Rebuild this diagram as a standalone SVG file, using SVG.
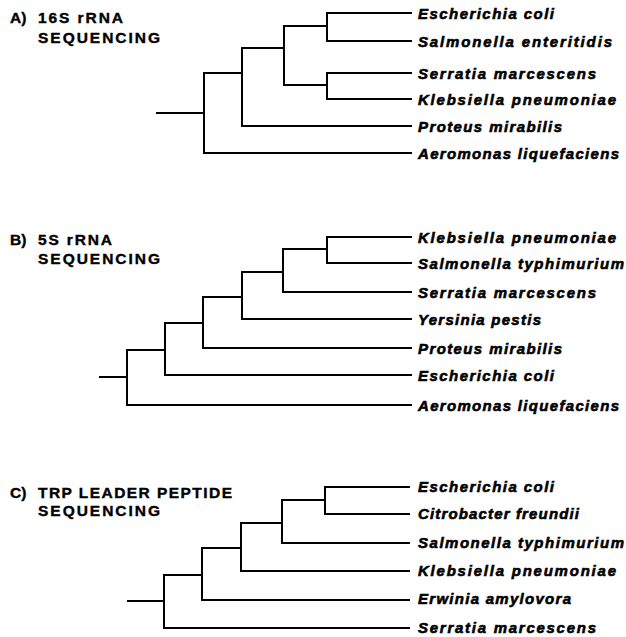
<svg xmlns="http://www.w3.org/2000/svg" width="626" height="637" viewBox="0 0 626 637">
<style>
.bg{fill:#fff}
.br{fill:none;stroke:#000;stroke-width:2;stroke-linecap:square;stroke-linejoin:miter}
.t{font-family:"Liberation Sans",Arial,sans-serif;font-weight:bold;font-size:15.5px;fill:#000;stroke:#000;stroke-width:0.4}
.sp{font-family:"Liberation Sans",Arial,sans-serif;font-weight:bold;font-style:italic;font-size:15px;fill:#000;stroke:#000;stroke-width:0.6}
</style>
<rect class="bg" x="0" y="0" width="626" height="637"/>
<g id="connectors">
<!-- Panel A -->
<path class="br" d="M411,13 H327 V41 H411"/>
<path class="br" d="M411,73 H327 V99 H411"/>
<path class="br" d="M327,26 H284 V85 H327"/>
<path class="br" d="M284,48 H242 V126 H411"/>
<path class="br" d="M242,73 H204 V153 H411"/>
<path class="br" d="M157,113 H204"/>
<!-- Panel B -->
<path class="br" d="M411,237 H327 V263 H411"/>
<path class="br" d="M327,249 H283 V292 H411"/>
<path class="br" d="M283,272 H242 V319 H411"/>
<path class="br" d="M242,297 H203 V348 H411"/>
<path class="br" d="M203,323 H165 V375 H411"/>
<path class="br" d="M165,350 H127 V405 H411"/>
<path class="br" d="M100,377 H127"/>
<!-- Panel C -->
<path class="br" d="M409,487 H325 V514 H409"/>
<path class="br" d="M325,500 H282 V543 H409"/>
<path class="br" d="M282,523 H241 V571 H409"/>
<path class="br" d="M241,548 H202 V600 H409"/>
<path class="br" d="M202,575 H164 V628 H409"/>
<path class="br" d="M128,601 H164"/>
</g>
<g id="title-a">
<text class="t" x="10" y="23">A)</text>
<text class="t" x="38" y="23" textLength="85" lengthAdjust="spacing">16S rRNA</text>
<text class="t" x="38" y="43" textLength="122" lengthAdjust="spacing">SEQUENCING</text>
</g>
<g id="a-escherichia-coli"><text class="sp" x="418" y="19" textLength="136" lengthAdjust="spacing">Escherichia coli</text></g>
<g id="a-salmonella-enteritidis"><text class="sp" x="418" y="47" textLength="194" lengthAdjust="spacing">Salmonella enteritidis</text></g>
<g id="a-serratia-marcescens"><text class="sp" x="418" y="79" textLength="178" lengthAdjust="spacing">Serratia marcescens</text></g>
<g id="a-klebsiella-pneumoniae"><text class="sp" x="418" y="105" textLength="198" lengthAdjust="spacing">Klebsiella pneumoniae</text></g>
<g id="a-proteus-mirabilis"><text class="sp" x="418" y="132" textLength="144" lengthAdjust="spacing">Proteus mirabilis</text></g>
<g id="a-aeromonas-liquefaciens"><text class="sp" x="418" y="159" textLength="201" lengthAdjust="spacing">Aeromonas liquefaciens</text></g>
<g id="title-b">
<text class="t" x="10" y="245">B)</text>
<text class="t" x="38" y="245" textLength="74" lengthAdjust="spacing">5S rRNA</text>
<text class="t" x="38" y="264" textLength="122" lengthAdjust="spacing">SEQUENCING</text>
</g>
<g id="b-klebsiella-pneumoniae"><text class="sp" x="418" y="243" textLength="198" lengthAdjust="spacing">Klebsiella pneumoniae</text></g>
<g id="b-salmonella-typhimurium"><text class="sp" x="418" y="269" textLength="206" lengthAdjust="spacing">Salmonella typhimurium</text></g>
<g id="b-serratia-marcescens"><text class="sp" x="418" y="298" textLength="178" lengthAdjust="spacing">Serratia marcescens</text></g>
<g id="b-yersinia-pestis"><text class="sp" x="418" y="325" textLength="123" lengthAdjust="spacing">Yersinia pestis</text></g>
<g id="b-proteus-mirabilis"><text class="sp" x="418" y="354" textLength="144" lengthAdjust="spacing">Proteus mirabilis</text></g>
<g id="b-escherichia-coli"><text class="sp" x="418" y="381" textLength="136" lengthAdjust="spacing">Escherichia coli</text></g>
<g id="b-aeromonas-liquefaciens"><text class="sp" x="418" y="411" textLength="201" lengthAdjust="spacing">Aeromonas liquefaciens</text></g>
<g id="title-c">
<text class="t" x="10" y="498">C)</text>
<text class="t" x="38" y="498" textLength="194" lengthAdjust="spacing">TRP LEADER PEPTIDE</text>
<text class="t" x="38" y="516" textLength="122" lengthAdjust="spacing">SEQUENCING</text>
</g>
<g id="c-escherichia-coli"><text class="sp" x="418" y="492" textLength="136" lengthAdjust="spacing">Escherichia coli</text></g>
<g id="c-citrobacter-freundii"><text class="sp" x="418" y="519" textLength="161" lengthAdjust="spacing">Citrobacter freundii</text></g>
<g id="c-salmonella-typhimurium"><text class="sp" x="418" y="548" textLength="206" lengthAdjust="spacing">Salmonella typhimurium</text></g>
<g id="c-klebsiella-pneumoniae"><text class="sp" x="418" y="576" textLength="198" lengthAdjust="spacing">Klebsiella pneumoniae</text></g>
<g id="c-erwinia-amylovora"><text class="sp" x="418" y="604" textLength="153" lengthAdjust="spacing">Erwinia amylovora</text></g>
<g id="c-serratia-marcescens"><text class="sp" x="418" y="633" textLength="178" lengthAdjust="spacing">Serratia marcescens</text></g>
</svg>
